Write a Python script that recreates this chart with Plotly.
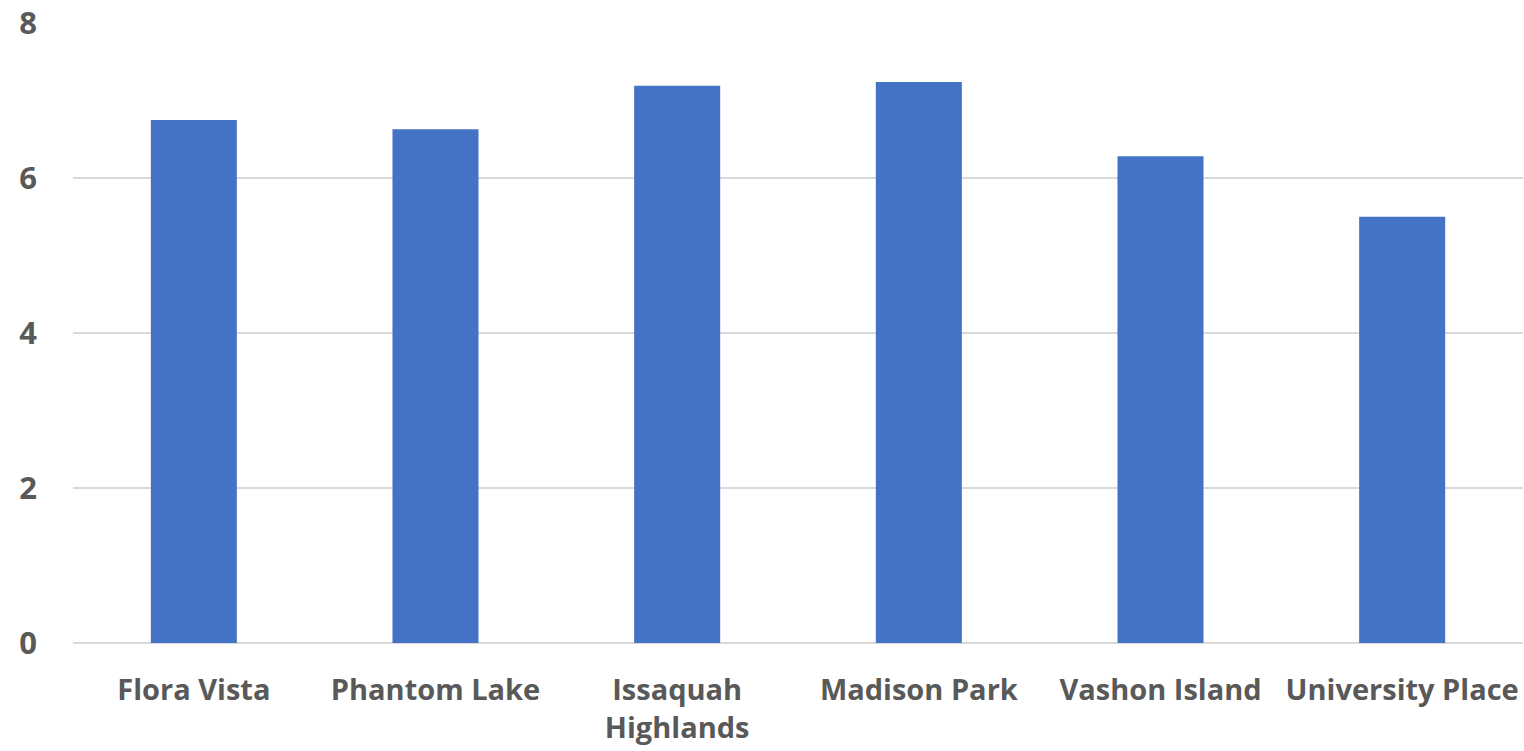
import plotly.graph_objects as go

categories = ["Flora Vista", "Phantom Lake", "Issaquah<br>Highlands", "Madison Park", "Vashon Island", "University Place"]
values = [6.75, 6.63, 7.19, 7.24, 6.28, 5.50]
y_ticks = [0, 2, 4, 6, 8]

fig = go.Figure(go.Bar(x=categories, y=values, marker=dict(color="#4472C4", line=dict(width=0)), width=0.356))

fig.update_layout(
    width=1524, height=751,
    margin=dict(l=73, r=1, t=23, b=108),
    plot_bgcolor="white", paper_bgcolor="white",
    showlegend=False,
    font=dict(family="Open Sans", size=28, color="#595959"),
)
fig.update_xaxes(showgrid=False, showline=False, ticks="",
                 tickfont=dict(family="Open Sans", size=29, color="#595959", weight="bold"),
                 ticklabelstandoff=27, tickangle=0)
fig.update_yaxes(range=[0, 8], tickvals=y_ticks, showgrid=True, gridcolor="#D9D9D9", gridwidth=2,
                 zeroline=True, zerolinecolor="#D9D9D9", zerolinewidth=2, showline=False, ticks="",
                 tickfont=dict(family="Open Sans", size=31, color="#595959", weight="bold"), ticklabelstandoff=35)
fig.write_html("out.html")
